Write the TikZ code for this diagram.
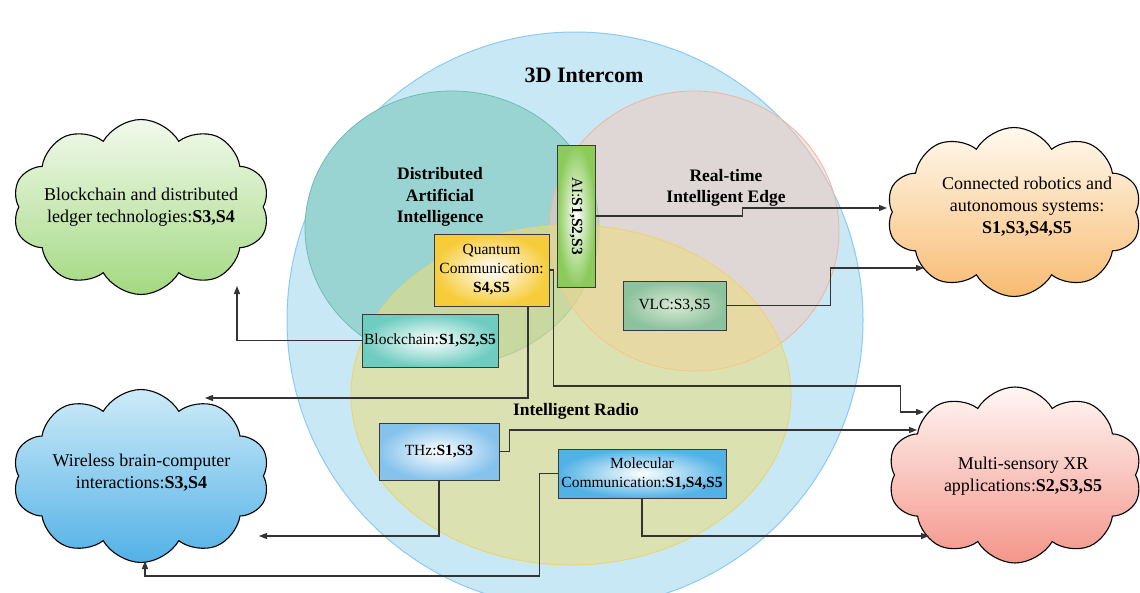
\documentclass[tikz,border=0pt]{standalone}
\usepackage{fontspec}
\setmainfont{Liberation Serif}
\usetikzlibrary{shapes.symbols,arrows.meta,calc}
\definecolor{bigfill}{HTML}{C8E8F6}
\definecolor{bigline}{HTML}{8CCBEF}
\definecolor{tealfill}{HTML}{9AD4D2}
\definecolor{tealline}{HTML}{6DBDB5}
\definecolor{pinkfill}{HTML}{F4C8B6}
\definecolor{pinkline}{HTML}{F2B49C}
\definecolor{yelfill}{HTML}{EEDC7A}
\definecolor{yelline}{HTML}{EED36A}
\definecolor{lineclr}{HTML}{333333}
\definecolor{boxline}{HTML}{3A3A3A}
\definecolor{aiout}{HTML}{8BCB5A}
\definecolor{qcout}{HTML}{F6CC3A}
\definecolor{bcout}{HTML}{6ECDC0}
\definecolor{vlcin}{HTML}{D9EAD4}
\definecolor{vlcout}{HTML}{8DC29E}
\definecolor{thzout}{HTML}{86C3EC}
\definecolor{mcout}{HTML}{52B2E6}
\definecolor{gtop}{HTML}{F2F9EC}
\definecolor{gbot}{HTML}{A3D981}
\definecolor{btop}{HTML}{CDEBF8}
\definecolor{bbot}{HTML}{52B1E6}
\definecolor{otop}{HTML}{FFF9EE}
\definecolor{obot}{HTML}{F8BB72}
\definecolor{ptop}{HTML}{FFF6F4}
\definecolor{pbot}{HTML}{F4958A}
\begin{document}
\begin{tikzpicture}[x=1pt,y=-1pt,
  box/.style={draw=boxline, line width=0.9pt, inner sep=0pt, align=center,
    font=\fontsize{15.5}{19}\selectfont},
  conn/.style={draw=lineclr, line width=1.1pt, -{Triangle[length=8pt,width=6pt]}},
  cloudbox/.style={cloud, cloud puffs=10, cloud puff arc=120, aspect=1.47,
    draw=black, line width=1.1pt, inner sep=0pt},
  title/.style={font=\bfseries\fontsize{17.5}{21.5}\selectfont, align=center},
  ctext/.style={font=\fontsize{18}{22}\selectfont, align=center}]
\useasboundingbox (0,0) rectangle (1140,592);
% Venn background
\draw[draw=bigline, fill=bigfill, line width=1pt] (575,320) circle [radius=288pt];
\draw[draw=tealline, fill=tealfill, line width=0.8pt] (452,228) ellipse [x radius=147pt, y radius=137pt];
\draw[draw=pinkline, fill=pinkfill, fill opacity=0.5, line width=0.8pt] (694,231) ellipse [x radius=145pt, y radius=140pt];
\draw[draw=yelline, fill=yelfill, fill opacity=0.55, line width=0.8pt] (571,395) ellipse [x radius=220pt, y radius=170pt];
% titles
\node[title, font=\bfseries\fontsize{22}{26}\selectfont] (t3d) at (584,75) {3D Intercom};
\node[title] (tdai) at (440,197) {Distributed\\Artificial\\Intelligence};
\node[title] (tedge) at (726,188) {Real-time\\Intelligent Edge};
\node[title] (tradio) at (576,411) {Intelligent Radio};
% clouds
\node[cloudbox, minimum width=257pt, minimum height=175pt, top color=gtop, bottom color=gbot] (gc) at (141,207) {};
\node[cloudbox, minimum width=257pt, minimum height=173pt, top color=btop, bottom color=bbot] (wb) at (141,476) {};
\node[cloudbox, minimum width=255pt, minimum height=169pt, top color=otop, bottom color=obot] (rob) at (1014,212) {};
\node[cloudbox, minimum width=254pt, minimum height=176pt, top color=ptop, bottom color=pbot] (xr) at (1015,475) {};
\node[ctext] (gct) at (gc.center) {Blockchain and distributed\\ledger technologies:\textbf{S3,S4}};
\node[ctext] (wbt) at (141.5,473) {Wireless brain-computer\\interactions:\textbf{S3,S4}};
\node[ctext] (robt) at (1027,207) {Connected robotics and\\autonomous systems:\\\textbf{S1,S3,S4,S5}};
\node[ctext] (xrt) at (1023,476) {Multi-sensory XR\\applications:\textbf{S2,S3,S5}};
% arrow ends on the clouds
\coordinate (rob-a) at (887,208);
\coordinate (rob-b) at (924,268);
\coordinate (gc-a) at (237,286);
\coordinate (wb-a) at (205,398);
\coordinate (wb-b) at (259,536);
\coordinate (wb-c) at (145,561);
\coordinate (xr-a) at (924,412);
\coordinate (xr-b) at (917,430);
\coordinate (xr-c) at (929,536);
% boxes
\node[box, rotate=-90, minimum width=142pt, minimum height=38pt, inner color=white, outer color=aiout] (ai) at (576,216) {AI:\textbf{S1,S2,S3}};
\node[box, minimum width=115pt, minimum height=72pt, inner color=white, outer color=qcout] (qc) at (491.5,270) {Quantum\\Communication:\\\textbf{S4,S5}};
\node[box, minimum width=136pt, minimum height=53pt, inner color=white, outer color=bcout] (bc) at (430,340.5) {Blockchain:\textbf{S1,S2,S5}};
\node[box, minimum width=103pt, minimum height=49pt, inner color=vlcin, outer color=vlcout] (vlc) at (674.5,305.5) {VLC:S3,S5};
\node[box, minimum width=120pt, minimum height=57pt, inner color=white, outer color=thzout] (thz) at (439,451.5) {THz:\textbf{S1,S3}};
\node[box, minimum width=168pt, minimum height=49pt, inner color=white, outer color=mcout] (mc) at (642,473.5) {Molecular\\Communication:\textbf{S1,S4,S5}};
% connectors
\draw[conn] (ai.north) -- ++(147,0) -- ++(0,-8) -- (rob-a);
\draw[conn] (vlc.east) -- ++(104,0) |- (rob-b);
\draw[conn] (bc.west) -| (gc-a);
\draw[conn] ([xshift=36.5pt]qc.south) |- (wb-a);
\draw[conn] (qc.east) -- ++(4,0) -- ++(0,116) -- ++(347,0) |- (xr-a);
\draw[conn] (thz.east) -- ++(10,0) |- (xr-b);
\draw[conn] (thz.south) |- (wb-b);
\draw[conn] (mc.west) -- ++(-18,0) -- ++(0,102.5) -| (wb-c);
\draw[conn] (mc.south) |- (xr-c);
\end{tikzpicture}
\end{document}
